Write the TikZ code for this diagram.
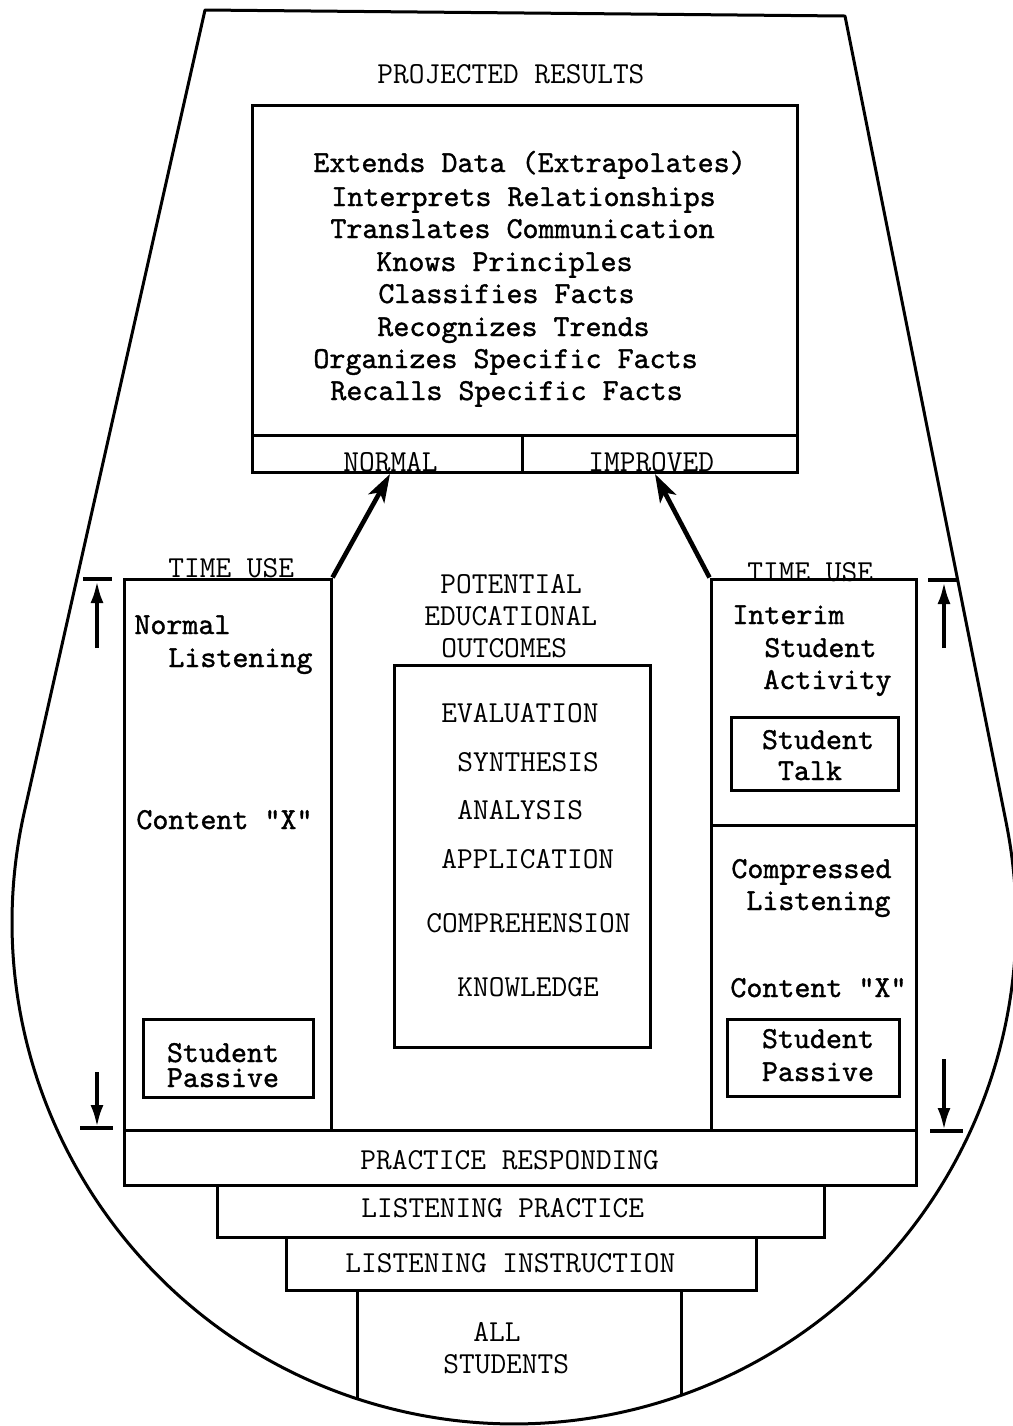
\documentclass[tikz,border=0pt]{standalone}
\usepackage{fontspec}
\newfontfamily\typer{lmmono10-regular}[Extension=.otf, FakeBold=1.2]
\usetikzlibrary{arrows.meta,fit}
\begin{document}
\begin{tikzpicture}[x=0.5pt,y=-0.5pt,
  ln/.style={line width=1.5pt},
  outerline/.style={line width=1.5pt, line join=round},
  box/.style={draw, line width=1.5pt, inner sep=0pt},
  txt/.style={font=\fontsize{15.25}{18}\selectfont\ttfamily, inner sep=0pt, anchor=base west},
  ctxt/.style={font=\fontsize{15.25}{18}\selectfont\ttfamily, inner sep=0pt, anchor=base},
  mtxt/.style={font=\fontsize{15.25}{18}\selectfont\typer, inner sep=0pt, anchor=base west},
  mctxt/.style={font=\fontsize{15.25}{18}\selectfont\typer, inner sep=0pt, anchor=base},
  bigarrow/.style={line width=2.3pt, -{Stealth[length=14pt,width=9pt,inset=3.5pt]}},
  rangearrow/.style={line width=1.8pt, -{Latex[length=11pt,width=6.5pt]}},
  bar/.style={line width=1.7pt},
]
\useasboundingbox (0,0) rectangle (1013,1426);
\fill[white] (0,0) rectangle (1013,1426);

% outer funnel shape: two straight sides tangent to a round bottom
\draw[outerline] (845,16) -- (205,10) -- (24.4,811.6)
  arc[start angle=192.7, end angle=-11.3, radius=502] -- cycle;

% projected results box
\node[txt] (projected) at (377,83) {PROJECTED RESULTS};
\node[box, fit={(252,105)(797,472)}] (results) {};
\node[box, fit={(252,435)(522,472)}] (normalbox) {};
\node[box, fit={(522,435)(797,472)}] (improvedbox) {};
\node[txt] (normal) at (343,471) {NORMAL};
\node[txt] (improved) at (588,471) {IMPROVED};

\node[mtxt] (r1) at (313,172) {Extends Data (Extrapolates)};
\node[mtxt] (r2) at (331,206) {Interprets Relationships};
\node[mtxt] (r3) at (330,238) {Translates Communication};
\node[mtxt] (r4) at (376,271) {Knows Principles};
\node[mtxt] (r5) at (378,303) {Classifies Facts};
\node[mtxt] (r6) at (377,336) {Recognizes Trends};
\node[mtxt] (r7) at (313,368) {Organizes Specific Facts};
\node[mtxt] (r8) at (330,400) {Recalls Specific Facts};

% columns
\node[box, fit={(124,579)(331,1130)}] (leftcol) {};
\node[box, fit={(711,579)(916,825)}] (interim) {};
\node[box, fit={(711,825)(916,1130)}] (compressed) {};

\node[txt] (tul) at (168,577) {TIME USE};
\node[txt] (tur) at (747,581) {TIME USE};

\coordinate (ntip) at (390,474);
\coordinate (itip) at (655,474);
\draw[bigarrow] (leftcol.north east) -- (ntip);
\draw[bigarrow] (interim.north west) -- (itip);

% left column text
\node[mtxt] (l1) at (134,634) {Normal};
\node[mtxt] (l2) at (168,667) {Listening};
\node[mtxt] (l3) at (136,829) {Content "X"};
\node[box, fit={(143,1019)(313,1097)}] (lpassive) {};
\node[mctxt] (lp1) at (223,1062) {Student};
\node[mctxt] (lp2) at (223,1087) {Passive};

% right column text
\node[mtxt] (i1) at (732,624) {Interim};
\node[mtxt] (i2) at (764,657) {Student};
\node[mtxt] (i3) at (763,689) {Activity};
\node[box, fit={(731,717)(898,790)}] (talk) {};
\node[mctxt] (t1) at (818,749) {Student};
\node[mctxt] (t2) at (810,780) {Talk};
\node[mtxt] (c1) at (731,878) {Compressed};
\node[mtxt] (c2) at (746,910) {Listening};
\node[mtxt] (c3) at (730,997) {Content "X"};
\node[box, fit={(727,1019)(899,1096)}] (rpassive) {};
\node[mctxt] (rp1) at (818,1048) {Student};
\node[mctxt] (rp2) at (818,1081) {Passive};

% center
\node[txt] (pot1) at (440,593) {POTENTIAL};
\node[txt] (pot2) at (424,625) {EDUCATIONAL};
\node[txt] (pot3) at (441,657) {OUTCOMES};
\node[box, fit={(394,665)(650,1047)}] (outcomes) {};
\node[txt] (o1) at (441,722) {EVALUATION};
\node[txt] (o2) at (457,771) {SYNTHESIS};
\node[txt] (o3) at (457,819) {ANALYSIS};
\node[txt] (o4) at (441,868) {APPLICATION};
\node[txt] (o5) at (426,932) {COMPREHENSION};
\node[txt] (o6) at (457,996) {KNOWLEDGE};

% range arrows
\coordinate (lt1) at (97,648); \coordinate (lt2) at (97,581);
\coordinate (lb1) at (97,1072); \coordinate (lb2) at (97,1127);
\coordinate (rt1) at (944,648); \coordinate (rt2) at (944,582);
\coordinate (rb1) at (944,1059); \coordinate (rb2) at (944,1130);
\draw[bar] (83,579) -- (112,579);
\draw[bar] (80,1128) -- (113,1128);
\draw[bar] (928,580) -- (957,580);
\draw[bar] (930,1131) -- (963,1131);
\draw[rangearrow] (lt1) -- (lt2);
\draw[rangearrow] (lb1) -- (lb2);
\draw[rangearrow] (rt1) -- (rt2);
\draw[rangearrow] (rb1) -- (rb2);

% base layers
\node[box, fit={(124,1130)(916,1185)}] (practice) {};
\node[txt] (pr) at (360,1169) {PRACTICE RESPONDING};
\node[box, fit={(217,1185)(824,1237)}] (lpractice) {};
\node[txt] (lpr) at (361,1217) {LISTENING PRACTICE};
\node[box, fit={(286,1237)(756,1290)}] (linstr) {};
\node[txt] (lin) at (345,1272) {LISTENING INSTRUCTION};
\coordinate (sl) at (357,1398.8);
\coordinate (sr) at (681,1395.4);
\draw[ln] (linstr.south west -| sl) -- (sl);
\draw[ln] (linstr.south west -| sr) -- (sr);
\node[txt] (all) at (473,1341) {ALL};
\node[txt] (stud) at (443,1373) {STUDENTS};
\end{tikzpicture}
\end{document}
